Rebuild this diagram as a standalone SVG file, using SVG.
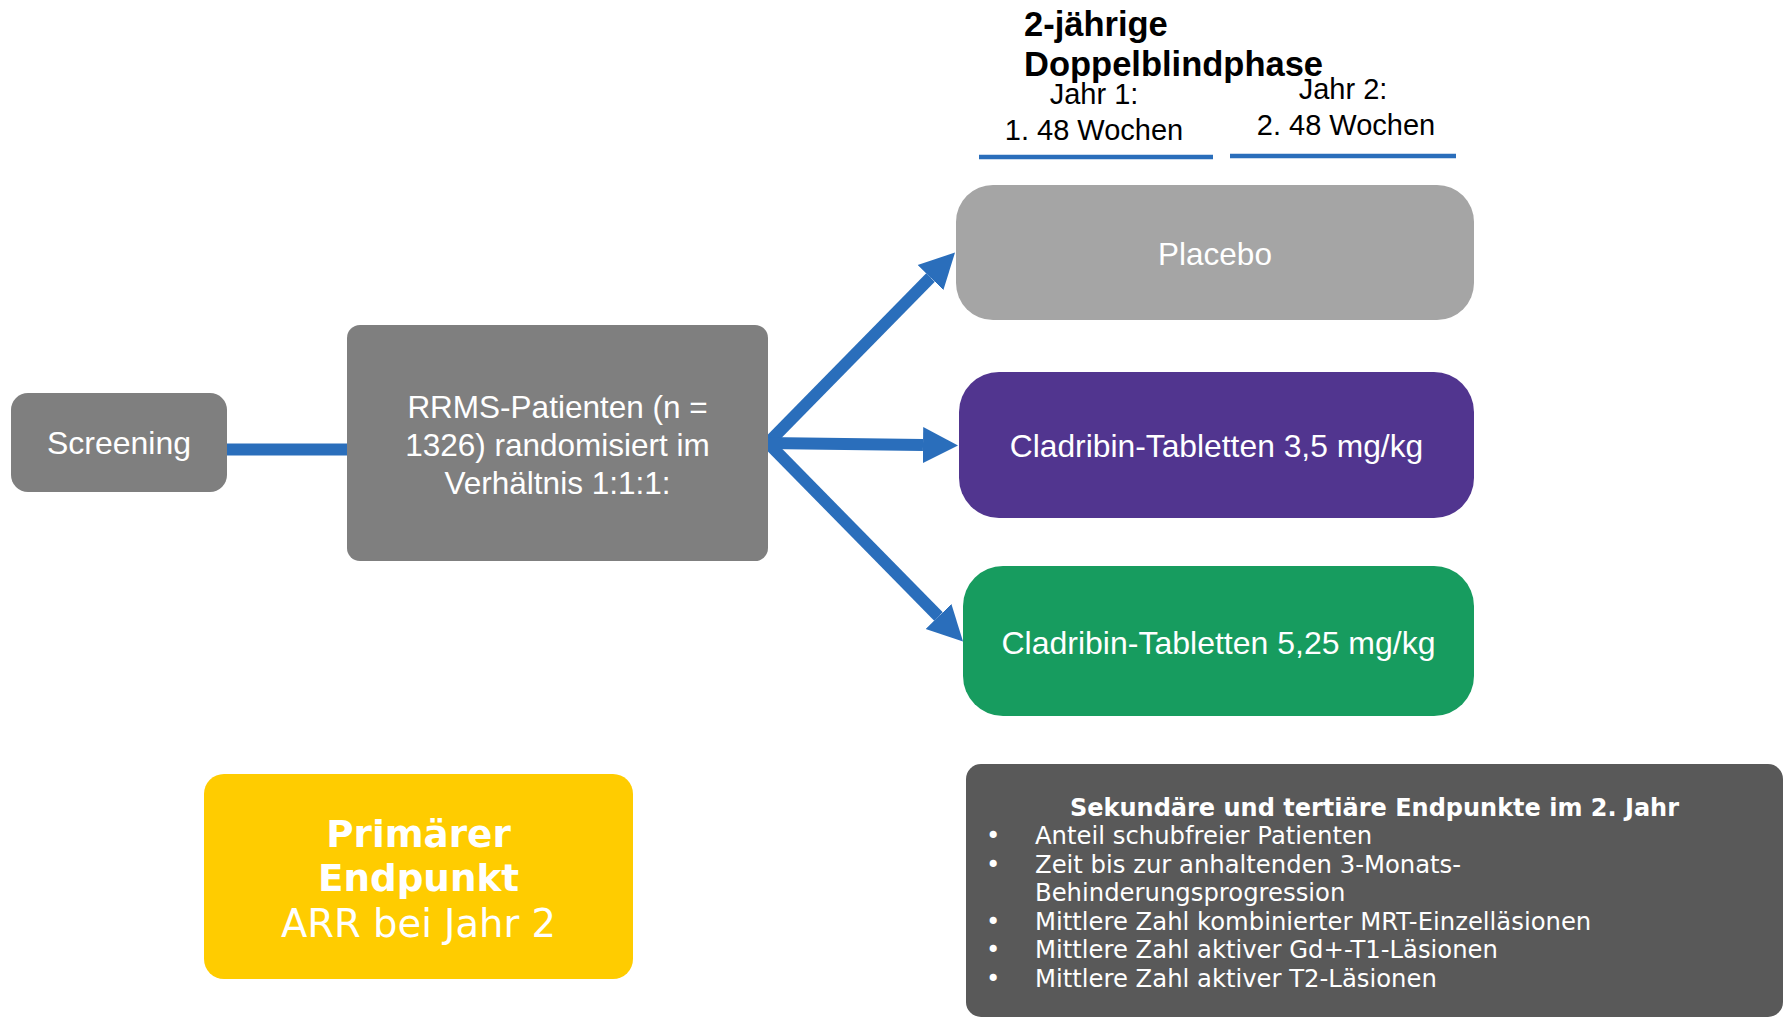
<svg xmlns="http://www.w3.org/2000/svg" width="1789" height="1017" viewBox="0 0 1789 1017">
<style>
.ar{font-family:"Liberation Sans",Arial,sans-serif;fill:#fff;text-anchor:middle}
.hd{font-family:"Liberation Sans",Arial,sans-serif;fill:#000}
.vd{font-family:"DejaVu Sans",Verdana,sans-serif;fill:#fff}
.conn{stroke:#2A6EBB;stroke-width:12;fill:none}
</style>
<defs>
<marker id="ah" markerUnits="userSpaceOnUse" markerWidth="36" markerHeight="38" viewBox="0 0 36 38" refX="0" refY="19" orient="auto">
<path d="M0,1 L35,19 L0,37 Z" fill="#2A6EBB"/>
</marker>
</defs>
<rect width="1789" height="1017" fill="#fff"/>

<g id="header">
<text class="hd" x="1024" y="36" font-size="34.5" font-weight="bold">2-jährige</text>
<text class="hd" x="1024" y="76" font-size="34.5" font-weight="bold">Doppelblindphase</text>
<text class="hd" x="1094" y="104" font-size="29" text-anchor="middle">Jahr 1:</text>
<text class="hd" x="1094" y="140" font-size="29" text-anchor="middle">1. 48 Wochen</text>
<text class="hd" x="1343" y="99" font-size="29" text-anchor="middle">Jahr 2:</text>
<text class="hd" x="1346" y="135" font-size="29" text-anchor="middle">2. 48 Wochen</text>
<line x1="979" y1="157" x2="1213" y2="157" stroke="#2A6EBB" stroke-width="4.5"/>
<line x1="1230" y1="156" x2="1456" y2="156" stroke="#2A6EBB" stroke-width="4.5"/>
</g>

<g id="connectors">
<line class="conn" x1="227" y1="449.5" x2="348" y2="449.5" stroke-width="13"/>
<line class="conn" x1="768" y1="443" x2="930.5" y2="277.5" marker-end="url(#ah)"/>
<line class="conn" x1="766" y1="443" x2="923" y2="445" marker-end="url(#ah)"/>
<line class="conn" x1="768" y1="443" x2="938.5" y2="616.5" marker-end="url(#ah)"/>
</g>

<g id="screening">
<rect x="11" y="393" width="216" height="99" rx="17" fill="#7F7F7F"/>
<text class="ar" x="119" y="454" font-size="32">Screening</text>
</g>

<g id="rrms">
<rect x="347" y="325" width="421" height="236" rx="13" fill="#7F7F7F"/>
<text class="ar" x="557.5" y="418" font-size="31.5">RRMS-Patienten (n =</text>
<text class="ar" x="557.5" y="456" font-size="31.5">1326) randomisiert im</text>
<text class="ar" x="557.5" y="494" font-size="31.5">Verhältnis 1:1:1:</text>
</g>

<g id="placebo">
<rect x="956" y="185" width="518" height="135" rx="37" fill="#A5A5A5"/>
<text class="ar" x="1215" y="265" font-size="31.5">Placebo</text>
</g>

<g id="clad35">
<rect x="959" y="372" width="515" height="146" rx="40" fill="#51358F"/>
<text class="ar" x="1216.5" y="457" font-size="31.8">Cladribin-Tabletten 3,5 mg/kg</text>
</g>

<g id="clad525">
<rect x="963" y="566" width="511" height="150" rx="40" fill="#179C5F"/>
<text class="ar" x="1218.5" y="654" font-size="32">Cladribin-Tabletten 5,25 mg/kg</text>
</g>

<g id="primary">
<rect x="204" y="774" width="429" height="205" rx="20" fill="#FFCC00"/>
<text class="vd" x="418.5" y="847" font-size="37.3" font-weight="bold" text-anchor="middle">Primärer</text>
<text class="vd" x="418.5" y="891" font-size="37.3" font-weight="bold" text-anchor="middle">Endpunkt</text>
<text class="vd" x="418.5" y="937" font-size="38.5" text-anchor="middle">ARR bei Jahr 2</text>
</g>

<g id="secondary">
<rect x="966" y="764" width="817" height="253" rx="15" fill="#595959"/>
<text class="vd" x="1374.5" y="816" font-size="24" font-weight="bold" text-anchor="middle">Sekundäre und tertiäre Endpunkte im 2. Jahr</text>
<g font-size="24.3">
<text class="vd" x="986" y="844">•</text>
<text class="vd" x="1035" y="844">Anteil schubfreier Patienten</text>
<text class="vd" x="986" y="873">•</text>
<text class="vd" x="1035" y="873">Zeit bis zur anhaltenden 3-Monats-</text>
<text class="vd" x="1035" y="901">Behinderungsprogression</text>
<text class="vd" x="986" y="930">•</text>
<text class="vd" x="1035" y="930">Mittlere Zahl kombinierter MRT-Einzelläsionen</text>
<text class="vd" x="986" y="958">•</text>
<text class="vd" x="1035" y="958">Mittlere Zahl aktiver Gd+-T1-Läsionen</text>
<text class="vd" x="986" y="987">•</text>
<text class="vd" x="1035" y="987">Mittlere Zahl aktiver T2-Läsionen</text>
</g>
</g>
</svg>
